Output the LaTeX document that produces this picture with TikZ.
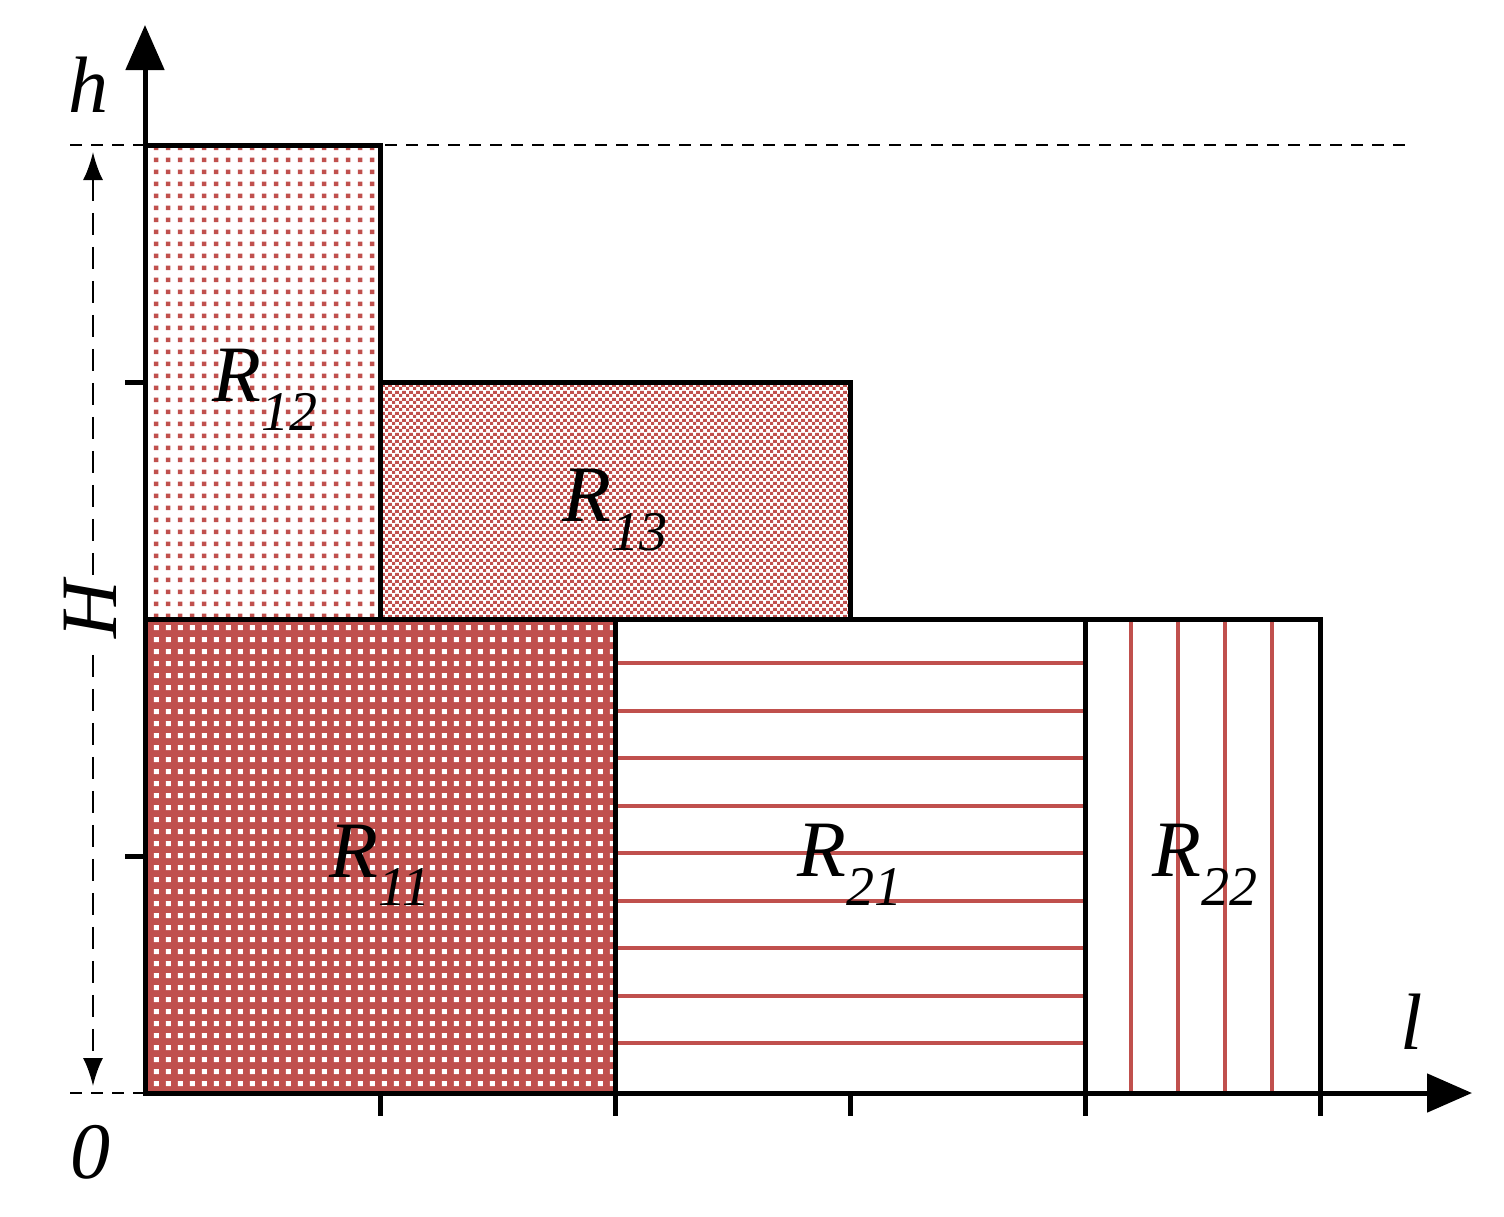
\documentclass[tikz,border=0pt]{standalone}
\usepackage{fontspec}
\setmainfont{Liberation Serif}
\usetikzlibrary{patterns,arrows.meta}
\definecolor{myred}{RGB}{192,80,77}
\pgfdeclarepatterninherentlycolored{rdots}{\pgfpointorigin}{\pgfpoint{11.7pt}{11.7pt}}{\pgfpoint{11.7pt}{11.7pt}}{%
 \pgfsetfillcolor{myred}\pgfpathrectangle{\pgfpoint{2pt}{2pt}}{\pgfpoint{4.5pt}{4.5pt}}\pgfusepath{fill}}
\pgfdeclarepatterninherentlycolored{wdots}{\pgfpointorigin}{\pgfpoint{11.7pt}{11.7pt}}{\pgfpoint{11.7pt}{11.7pt}}{%
 \pgfsetfillcolor{white}\pgfpathrectangle{\pgfpoint{2pt}{2pt}}{\pgfpoint{5pt}{5pt}}\pgfusepath{fill}}
\pgfdeclarepatterninherentlycolored{checker}{\pgfpointorigin}{\pgfpoint{7pt}{7pt}}{\pgfpoint{7pt}{7pt}}{%
 \pgfsetfillcolor{myred}\pgfpathrectangle{\pgfpoint{0pt}{0pt}}{\pgfpoint{3.5pt}{3.5pt}}\pgfpathrectangle{\pgfpoint{3.5pt}{3.5pt}}{\pgfpoint{3.5pt}{3.5pt}}\pgfusepath{fill}}
\begin{document}
\begin{tikzpicture}[x=1pt,y=-1pt,
 box/.style={line width=5pt,draw=black},
 lab/.style={font=\fontsize{80}{80}\selectfont\itshape,inner sep=0pt},
 ax/.style={line width=5pt,-{Triangle[length=45pt,width=38pt]}},
 rl/.style={line width=4pt,draw=myred}]
\useasboundingbox (0,0) rectangle (1504,1216);
% fills
\fill[myred] (145,619) rectangle (615,1093);
\fill[pattern=wdots] (145,619) rectangle (615,1093);
\fill[pattern=rdots] (145,145) rectangle (380,619);
\fill[pattern=checker] (380,382) rectangle (850,619);
\foreach \y in {663,711,758,806,853,901,948,996,1043} \draw[rl] (617,\y) -- (1083,\y);
\foreach \x in {1131,1178,1225,1272} \draw[rl] (\x,619) -- (\x,1091);
% boxes
\draw[box] (145,145) rectangle (380,619);
\draw[box] (380,382) rectangle (850,619);
\draw[box] (145,619) rectangle (615,1093);
\draw[box] (615,619) rectangle (1085,1093);
\draw[box] (1085,619) rectangle (1320,1093);
% dashed guides
\draw[line width=2.5pt,dash pattern=on 12pt off 9pt] (70,145) -- (1405,145);
\draw[line width=2.5pt,dash pattern=on 12pt off 9pt] (70,1093) -- (145,1093);
% axes
\coordinate (o) at (145,1093);
\coordinate (ytip) at (145,25);
\coordinate (xtip) at (1472,1093);
\draw[ax] (o) -- (ytip);
\draw[ax] (o) -- (xtip);
\foreach \y in {382,856} \draw[line width=5pt] (125,\y) -- (145,\y);
\foreach \x in {380,615,850,1085,1320} \draw[line width=5pt] (\x,1093) -- (\x,1116);
% H dimension
\coordinate (ht) at (93,152);
\coordinate (hb) at (93,1086);
\draw[line width=2.5pt,dash pattern=on 22pt off 12pt,{Latex[length=28pt,width=20pt]}-{Latex[length=28pt,width=20pt]}] (ht) -- (hb);
\node[lab,fill=white,rotate=90,inner sep=4pt] (H) at (90,610) {H};
% labels
\node[lab] (h) at (88,85) {h};
\node[lab] (l) at (1412,1022) {l};
\node[lab] (zero) at (90,1152) {0};
\node[lab] (r12) at (265,390) {R\textsubscript{12}};
\node[lab] (r13) at (615,510) {R\textsubscript{13}};
\node[lab] (r11) at (380,865) {R\textsubscript{11}};
\node[lab] (r21) at (850,865) {R\textsubscript{21}};
\node[lab] (r22) at (1205,865) {R\textsubscript{22}};
\end{tikzpicture}
\end{document}
